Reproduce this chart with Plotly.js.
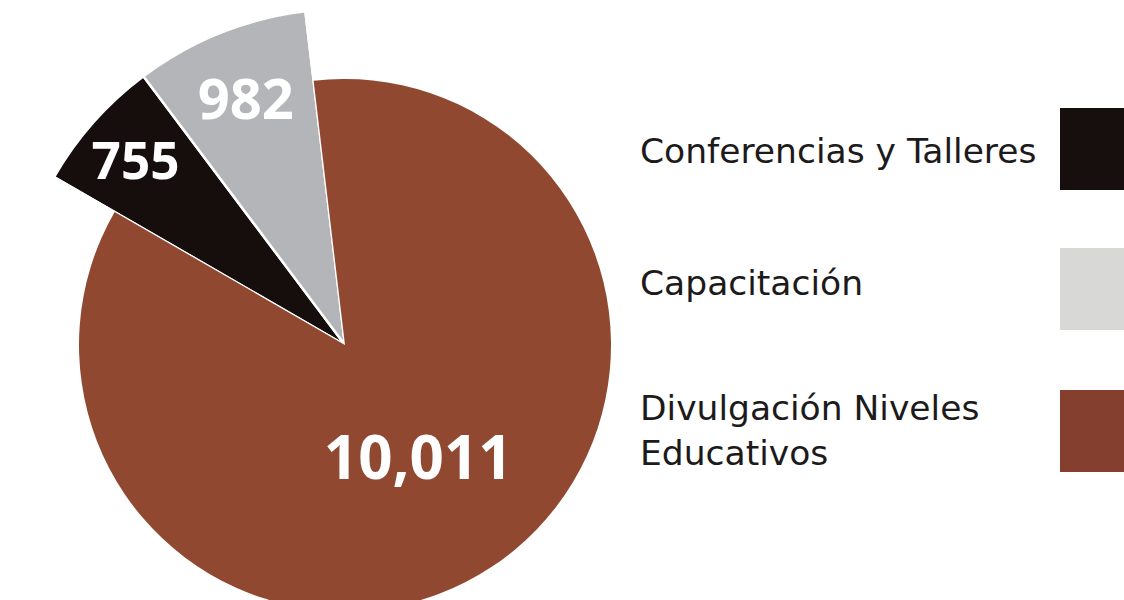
<!DOCTYPE html>
<html>
<head>
<meta charset="utf-8">
<script src="https://cdn.plot.ly/plotly-3.0.1.min.js"></script>
<style>
html,body{margin:0;padding:0;background:#fff;overflow:hidden;width:1124px;height:600px;}
#chart{width:1124px;height:720px;}
</style>
</head>
<body>
<div id="chart"></div>
<script>
// ---- data ----
const categories = ["Conferencias y Talleres", "Capacitación", "Divulgación Niveles Educativos"];
const legendLabels = ["Conferencias y Talleres", "Capacitación", "Divulgación Niveles<br>Educativos"];
const values = [755, 982, 10011];
const sliceColors = ["#150e0d", "#b4b5b8", "#904930"];
const legendColors = ["#170f0e", "#d8d9d7", "#843f2f"];

// ---- layout constants ----
const W = 1124, H = 720;
const cx = 345, cy = 345;
const rOuter = 336, rInner = 266;
const rot = -60;
const clear = "rgba(0,0,0,0)";

function dom(r){
  return {
    x: [(cx - r)/W, (cx + r)/W],
    y: [1 - (cy + r)/H, 1 - (cy - r)/H]
  };
}

const big = {
  type: "pie",
  labels: categories,
  values: values,
  sort: false,
  direction: "clockwise",
  rotation: rot,
  domain: dom(rOuter),
  marker: {colors: sliceColors.map((c,i)=> i < 2 ? c : clear), line: {color: "#ffffff", width: 2.5}},
  texttemplate: values.map((v,i)=> i < 2 ? "%{value:,}" : ""),
  textposition: "inside",
  insidetextorientation: "horizontal",
  insidetextfont: {color: "#ffffff", size: 56, family: "'Open Sans', Lato, sans-serif", weight: 700},
  hoverinfo: "skip",
  showlegend: false
};

const small = {
  type: "pie",
  labels: categories,
  values: values,
  sort: false,
  direction: "clockwise",
  rotation: rot,
  domain: dom(rInner),
  marker: {colors: sliceColors.map((c,i)=> i === 2 ? c : clear), line: {width: 0}},
  texttemplate: values.map((v,i)=> i === 2 ? "%{value:,}" : ""),
  textposition: "inside",
  insidetextorientation: "horizontal",
  insidetextfont: {color: "#ffffff", size: 60, family: "'Open Sans', Lato, sans-serif", weight: 700},
  hoverinfo: "skip",
  showlegend: false
};

// legend built from data arrays
const boxTops = [108, 248, 390];
const boxH = 82;
const shapes = legendColors.map((c,i)=>({
  type: "rect", xref: "paper", yref: "paper",
  x0: 1060/W, x1: 1130/W,
  y0: 1 - (boxTops[i] + boxH)/H, y1: 1 - boxTops[i]/H,
  fillcolor: c, line: {width: 0}
}));
const textCenters = [151, 283, 430];
const annotations = legendLabels.map((t,i)=>({
  xref: "paper", yref: "paper",
  x: 638/W, y: 1 - textCenters[i]/H,
  xanchor: "left", yanchor: "middle", align: "left",
  text: t, showarrow: false,
  font: {family: "'DejaVu Sans', sans-serif", size: 34.5, color: "#1c1a1a"}
}));

const layout = {
  width: W, height: H,
  margin: {l:0, r:0, t:0, b:0},
  paper_bgcolor: "#ffffff",
  plot_bgcolor: "#ffffff",
  shapes: shapes,
  annotations: annotations,
  showlegend: false
};

Plotly.newPlot("chart", [big, small], layout, {displayModeBar: false, staticPlot: true});
</script>
</body>
</html>
